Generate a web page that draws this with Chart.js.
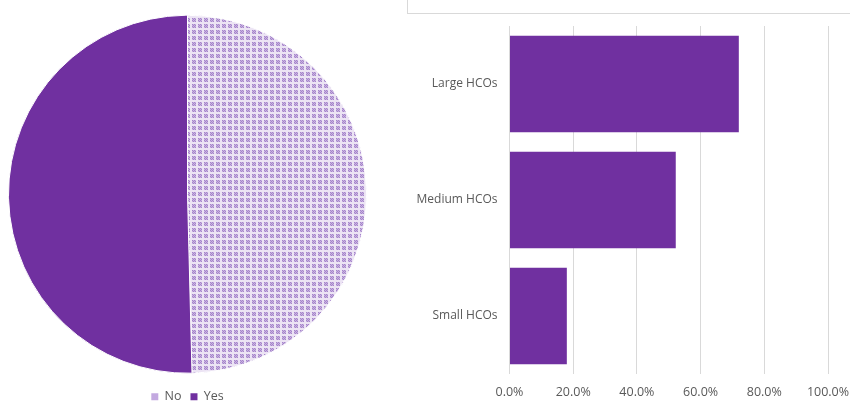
<!DOCTYPE html>
<html>
<head>
<meta charset="utf-8">
<script src="https://cdn.jsdelivr.net/npm/chart.js@4"></script>
<style>
  body { margin: 0; background: #fff; }
  #wrap { position: relative; width: 850px; height: 408px; overflow: hidden; }
  #pieBox { position: absolute; left: 0; top: 0; width: 375px; height: 408px; }
  #barBox { position: absolute; left: 400px; top: 0; width: 450px; height: 408px; }
  #frame { position: absolute; left: 407px; top: -2px; width: 450px; height: 15px;
           border-left: 1px solid #d9d9d9; border-bottom: 1px solid #d9d9d9; }
</style>
</head>
<body>
<div id="wrap">
  <div id="frame"></div>
  <div id="pieBox"><canvas id="pieChart"></canvas></div>
  <div id="barBox"><canvas id="barChart"></canvas></div>
</div>
<script>
// Pie data
const pieLabels = ['No', 'Yes'];
const pieValues = [49.6, 50.4];

// Bar data
const barLabels = ['Large HCOs', 'Medium HCOs', 'Small HCOs'];
const barValues = [0.72, 0.522, 0.18];
const xTicks = [0, 0.2, 0.4, 0.6, 0.8, 1.0];

const purple = '#7030A0';
const textGrey = '#595959';
const font = { family: 'Open Sans', size: 12 };

// dotted pattern fill used for "No"
function makePattern() {
    const c = document.createElement('canvas');
    c.width = 6; c.height = 6;
    const g = c.getContext('2d');
    g.fillStyle = '#ece4f4';
    g.fillRect(0, 0, 6, 6);
    for (let y = 0; y < 4; y++) {
        for (let x = 0; x < 4; x++) {
            g.fillStyle = (x + y) % 2 === 0 ? '#a584cb' : '#c9b4e0';
            g.fillRect(x, y, 1, 1);
        }
    }
    return g.createPattern(c, 'repeat');
}
const noFill = makePattern();

new Chart(document.getElementById('pieChart'), {
    type: 'pie',
    data: {
        labels: pieLabels,
        datasets: [{
            data: pieValues,
            backgroundColor: [noFill, purple],
            borderColor: '#ffffff',
            borderWidth: 1
        }]
    },
    options: {
        responsive: true,
        maintainAspectRatio: false,
        animation: false,
        layout: { padding: { top: 7, left: 8, right: 8, bottom: -5 } },
        plugins: {
            legend: {
                position: 'bottom',
                labels: {
                    color: textGrey,
                    font: { family: 'Open Sans', size: 12.5 },
                    boxWidth: 7,
                    boxHeight: 7,
                    padding: 9,
                    generateLabels: (chart) => {
                        return chart.data.labels.map((l, i) => ({
                            text: l,
                            fillStyle: i === 0 ? '#c3a9e0' : purple,
                            strokeStyle: i === 0 ? '#c3a9e0' : purple,
                            lineWidth: 0,
                            fontColor: textGrey,
                            index: i
                        }));
                    }
                }
            },
            tooltip: { enabled: false }
        }
    }
});

new Chart(document.getElementById('barChart'), {
    type: 'bar',
    data: {
        labels: barLabels,
        datasets: [{
            data: barValues,
            backgroundColor: purple,
            barPercentage: 0.83,
            categoryPercentage: 1
        }]
    },
    options: {
        indexAxis: 'y',
        responsive: true,
        maintainAspectRatio: false,
        animation: false,
        layout: { padding: { top: 26, right: 22, left: 0, bottom: 0 } },
        plugins: { legend: { display: false }, tooltip: { enabled: false } },
        scales: {
            x: {
                min: 0,
                max: 1,
                afterBuildTicks: (axis) => { axis.ticks = xTicks.map(v => ({ value: v })); },
                afterFit: (axis) => { axis.height = 34; axis.paddingRight = 0; axis.paddingLeft = 0; },
                grid: { color: '#d9d9d9', drawTicks: false },
                border: { display: false },
                ticks: {
                    color: textGrey,
                    font: { family: 'Open Sans', size: 12.5 },
                    padding: 11,
                    callback: (v) => (v * 100).toFixed(1) + '%'
                }
            },
            y: {
                afterFit: (axis) => { axis.width = 109.5; },
                grid: { display: false, drawTicks: false },
                border: { display: false },
                ticks: { color: textGrey, font: font, padding: 12 }
            }
        }
    }
});
</script>
</body>
</html>
